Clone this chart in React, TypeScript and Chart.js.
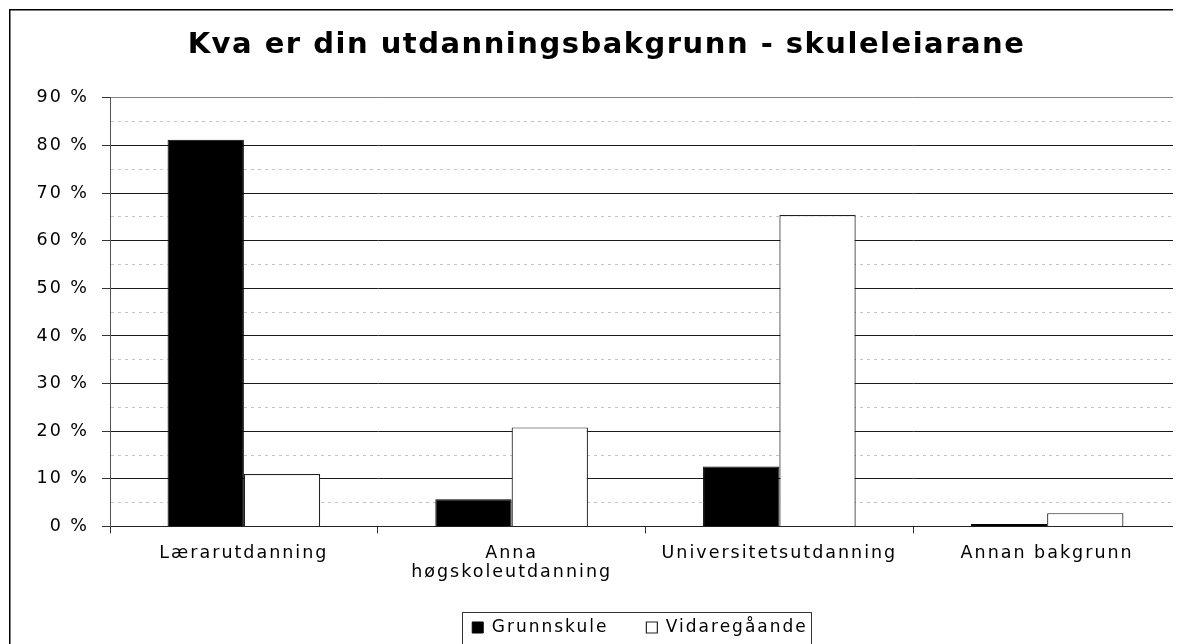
import { useEffect, useRef } from 'react';
import { Chart, registerables } from 'chart.js';

Chart.register(...registerables);

const titleText = 'Kva er din utdanningsbakgrunn - skuleleiarane';
const categories: (string | string[])[] = [
  'Lærarutdanning',
  ['Anna', 'høgskoleutdanning'],
  'Universitetsutdanning',
  'Annan bakgrunn',
];
const seriesNames = ['Grunnskule', 'Vidaregåande'];
const grunnskule = [81.2, 5.7, 12.6, 0.5];
const vidaregaande = [11.0, 20.8, 65.4, 2.8];
const yMin = 0;
const yMax = 90;
const yStep = 5;
const yLabelStep = 10;

const W = 1190;
const H = 660;
const FONT = "'DejaVu Sans', 'Liberation Sans', Arial, sans-serif";
const SPACING = '2px';
const TITLE_SPACING = '1.5px';

if (typeof document !== 'undefined') {
  document.documentElement.style.overflow = 'hidden';
  document.body.style.overflow = 'hidden';
}

const spacingPlugin = {
  id: 'spacing',
  beforeInit(c: any) { c.ctx.letterSpacing = SPACING; },
  beforeUpdate(c: any) { c.ctx.letterSpacing = SPACING; },
  beforeLayout(c: any) { c.ctx.letterSpacing = SPACING; },
  beforeDraw(c: any) { c.ctx.letterSpacing = SPACING; },
  afterLayout(c: any) {
    const tb = c.titleBlock;
    if (tb && !tb.__wrapped) {
      const orig = tb.draw.bind(tb);
      tb.draw = (...args: any[]) => {
        const prev = c.ctx.letterSpacing;
        c.ctx.letterSpacing = TITLE_SPACING;
        orig(...args);
        c.ctx.letterSpacing = prev;
      };
      tb.__wrapped = true;
    }
  },
};

const decorPlugin = {
  id: 'decor',
  afterLayout(c: any) {
    const lg = c.legend;
    if (!lg) return;
    const shift = 632 - (lg.left + lg.right) / 2;
    lg.left += shift;
    lg.right += shift;
  },
  beforeDatasetsDraw(c: any) {
    const ctx = c.ctx;
    const { top, right, bottom } = c.chartArea;
    ctx.save();
    ctx.strokeStyle = '#808080';
    ctx.lineWidth = 1;
    ctx.beginPath();
    ctx.moveTo(Math.round(right) + 0.5, top);
    ctx.lineTo(Math.round(right) + 0.5, bottom);
    ctx.stroke();
    ctx.restore();
  },
  afterDraw(c: any) {
    const ctx = c.ctx;
    ctx.save();
    ctx.strokeStyle = '#000';
    ctx.lineWidth = 1.5;
    ctx.strokeRect(1.75, 1.75, c.width - 3.5, c.height - 3.5);
    const hb = c.legend && c.legend.legendHitBoxes;
    if (hb && hb.length) {
      const l = Math.min(...hb.map((h: any) => h.left)) - 10;
      const r = Math.max(...hb.map((h: any) => h.left + h.width)) + 3;
      const cy = hb[0].top + hb[0].height / 2;
      ctx.strokeStyle = '#333';
      ctx.lineWidth = 1;
      ctx.strokeRect(Math.round(l) + 0.5, Math.round(cy - 16) + 0.5, Math.round(r - l), 32);
    }
    ctx.restore();
  },
};

export default function App() {
  const ref = useRef<HTMLCanvasElement | null>(null);
  useEffect(() => {
    if (!ref.current) return;
    const chart = new Chart(ref.current, {
      type: 'bar',
      data: {
        labels: categories,
        datasets: [
          {
            label: seriesNames[0],
            data: grunnskule,
            backgroundColor: '#000',
            borderColor: '#000',
            borderWidth: 1,
            barPercentage: 1,
            categoryPercentage: 0.57,
          },
          {
            label: seriesNames[1],
            data: vidaregaande,
            backgroundColor: '#fff',
            borderColor: '#222',
            borderWidth: 1.2,
            barPercentage: 1,
            categoryPercentage: 0.57,
          },
        ],
      },
      options: {
        responsive: false,
        animation: false,
        devicePixelRatio: 1,
        layout: { padding: { left: 24, right: 17, top: 0, bottom: 22 } },
        plugins: {
          title: {
            display: true,
            text: titleText,
            color: '#000',
            font: { family: FONT, size: 29, weight: 'bold', lineHeight: 1.2 },
            padding: { top: 20, bottom: 35 },
          },
          legend: {
            position: 'bottom',
            labels: {
              boxWidth: 11,
              boxHeight: 11,
              color: '#000',
              font: { family: FONT, size: 17 },
              padding: 38,
            },
          },
          tooltip: { enabled: false },
        },
        scales: {
          x: {
            afterFit: (s: any) => { s.height -= 11; },
            grid: {
              display: true,
              drawOnChartArea: false,
              offset: true,
              tickLength: 7,
              color: '#333',
            },
            border: { color: '#222' },
            ticks: {
              color: '#000',
              font: { family: FONT, size: 17.5, lineHeight: 1.1 },
              padding: 10,
              maxRotation: 0,
              autoSkip: false,
            },
          },
          y: {
            min: yMin,
            max: yMax,
            afterFit: (s: any) => { s.width = 78; },
            ticks: {
              stepSize: yStep,
              autoSkip: false,
              color: '#000',
              font: { family: FONT, size: 17.5 },
              padding: 13,
              callback: (v: any) => (Number(v) % yLabelStep === 0 ? `${v} %` : ''),
            },
            grid: {
              tickLength: 8,
              lineWidth: 1,
              color: (ctx: any) => {
                const v = ctx.tick ? ctx.tick.value : 0;
                if (v % yLabelStep !== 0) return '#c4c4c4';
                if (v === yMax) return '#808080';
                return '#1a1a1a';
              },
              tickColor: (ctx: any) => {
                const v = ctx.tick ? ctx.tick.value : 0;
                return v % yLabelStep === 0 ? '#333' : 'rgba(0,0,0,0)';
              },
            },
            border: {
              color: '#555',
              dash: (ctx: any) => (ctx.tick && ctx.tick.value % yLabelStep !== 0 ? [3, 4] : []),
            },
          },
        },
      },
      plugins: [spacingPlugin, decorPlugin],
    } as any);
    return () => chart.destroy();
  }, []);
  return (
    <div style={{ width: W, height: H }}>
      <canvas ref={ref} width={W} height={H} style={{ display: 'block', width: W, height: H }} />
    </div>
  );
}
